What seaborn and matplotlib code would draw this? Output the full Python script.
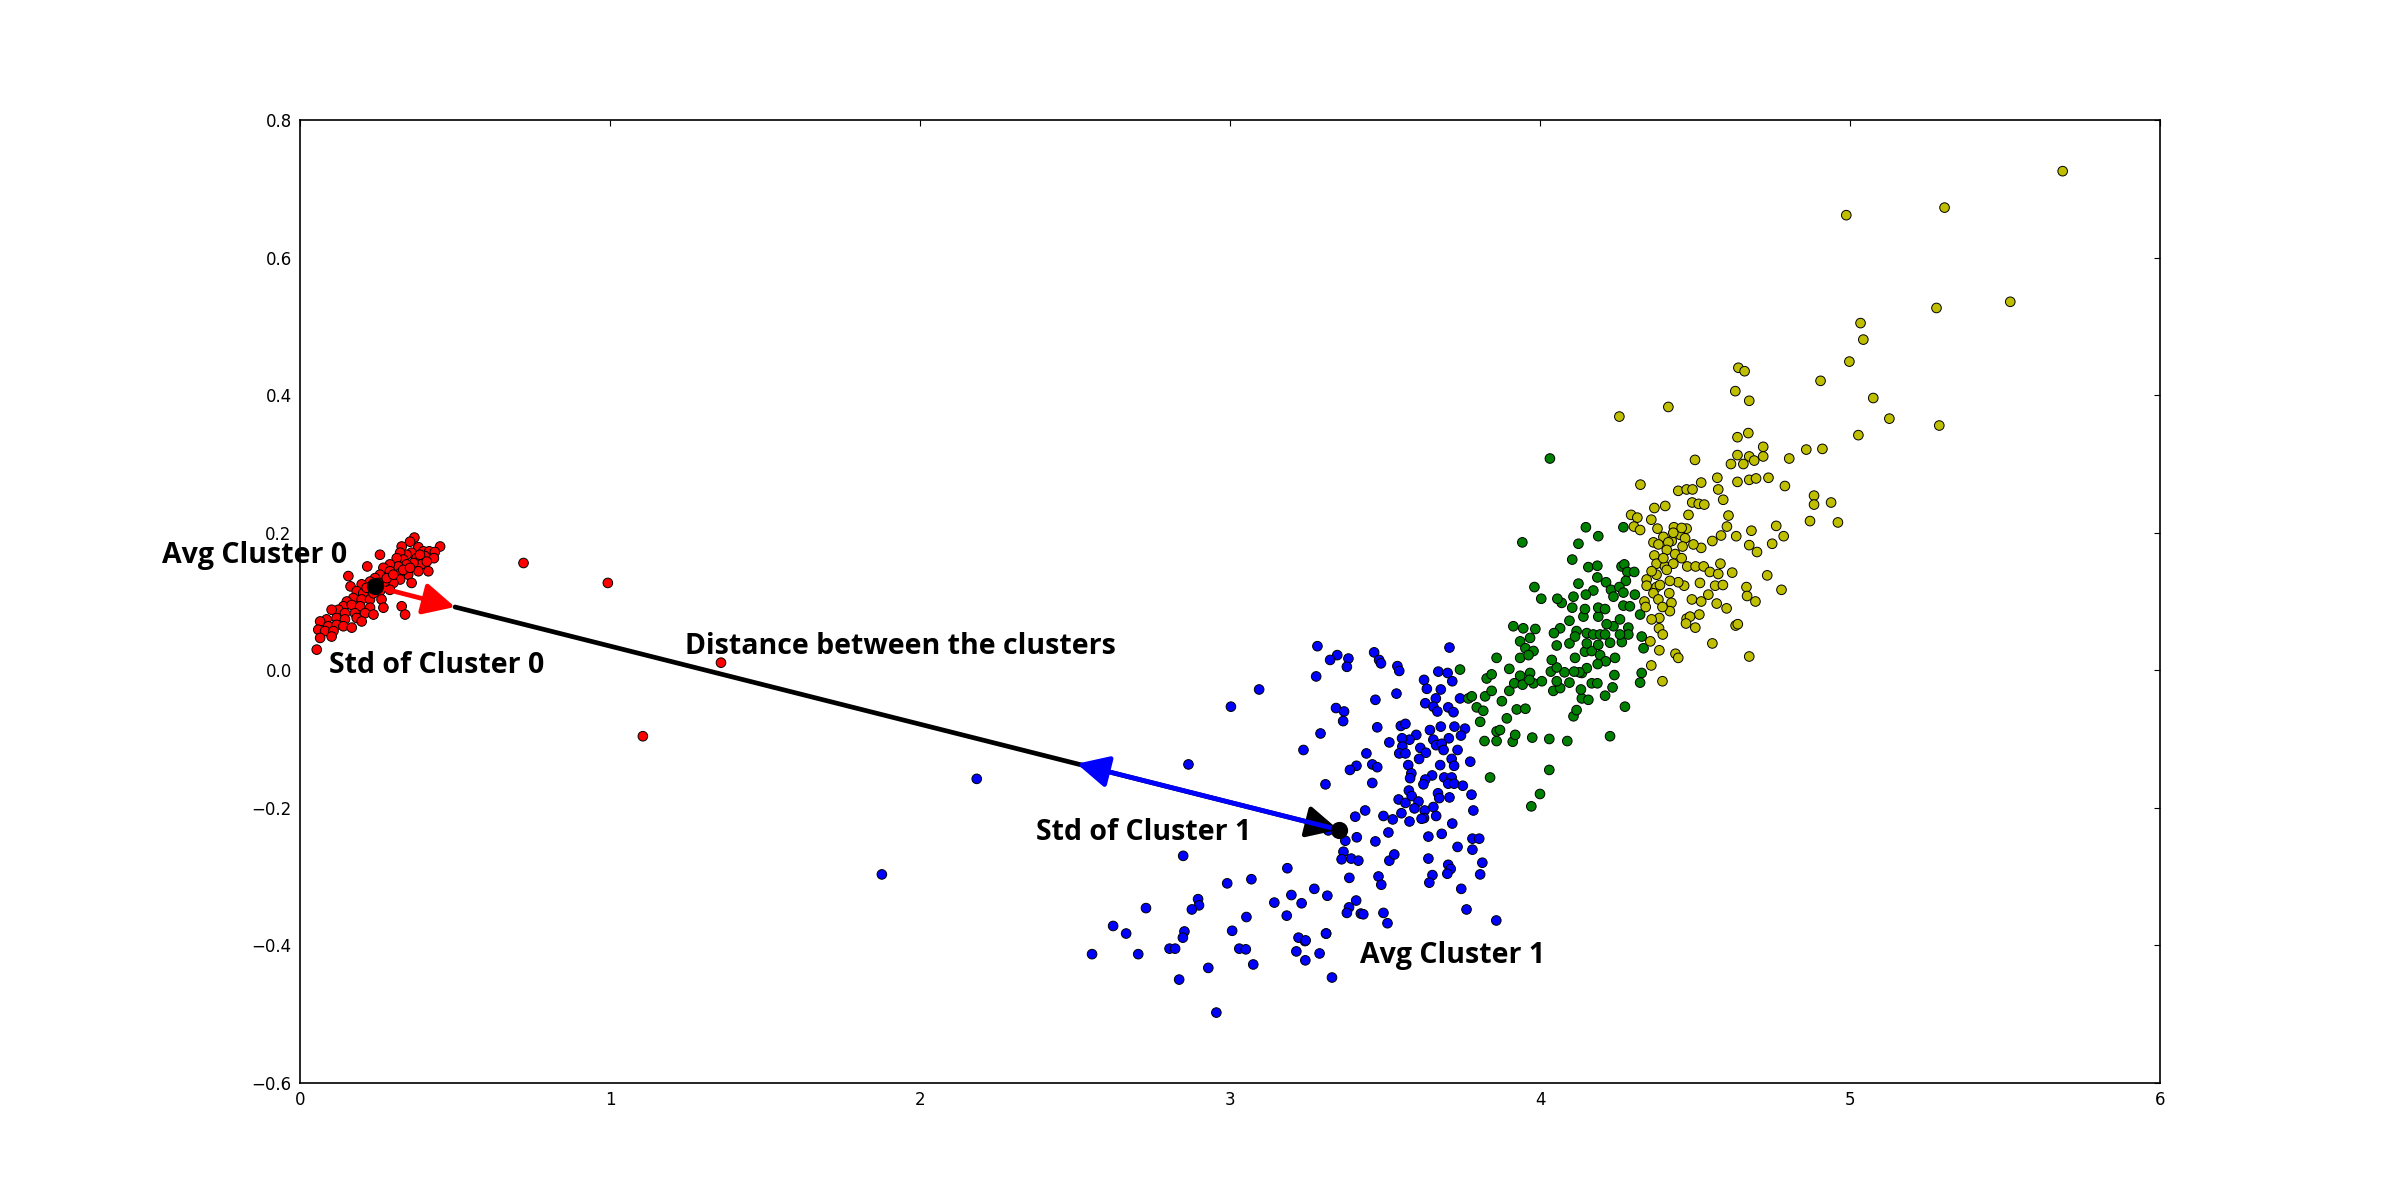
import numpy as np
import pandas as pd
import matplotlib
matplotlib.use("Agg")
import matplotlib.pyplot as plt
import seaborn as sns

# points, one list per cluster
red_pts = [
    (0.369, 0.193), (0.355, 0.187), (0.328, 0.180), (0.452, 0.180), (0.382, 0.179), (0.398, 0.173),
    (0.360, 0.171), (0.344, 0.168), (0.323, 0.171), (0.417, 0.173), (0.435, 0.172), (0.403, 0.166),
    (0.376, 0.163), (0.333, 0.161), (0.312, 0.163), (0.432, 0.163), (0.258, 0.168), (0.392, 0.154),
    (0.366, 0.156), (0.344, 0.154), (0.317, 0.151), (0.290, 0.154), (0.269, 0.149), (0.217, 0.151),
    (0.414, 0.144), (0.382, 0.144), (0.349, 0.139), (0.323, 0.141), (0.290, 0.144), (0.258, 0.139),
    (0.242, 0.134), (0.156, 0.137), (0.360, 0.127), (0.323, 0.132), (0.301, 0.127), (0.274, 0.129),
    (0.253, 0.127), (0.226, 0.129), (0.199, 0.125), (0.163, 0.122), (0.183, 0.115), (0.204, 0.112),
    (0.258, 0.115), (0.290, 0.117), (0.172, 0.105), (0.199, 0.103), (0.226, 0.103), (0.263, 0.103),
    (0.151, 0.100), (0.140, 0.093), (0.167, 0.095), (0.194, 0.093), (0.226, 0.091), (0.269, 0.091),
    (0.328, 0.093), (0.124, 0.088), (0.102, 0.088), (0.145, 0.083), (0.177, 0.083), (0.210, 0.083),
    (0.237, 0.081), (0.339, 0.081), (0.118, 0.076), (0.086, 0.074), (0.065, 0.071), (0.145, 0.074),
    (0.183, 0.076), (0.091, 0.064), (0.118, 0.066), (0.059, 0.059), (0.081, 0.057), (0.108, 0.057),
    (0.140, 0.064), (0.167, 0.062), (0.199, 0.071), (0.102, 0.049), (0.065, 0.047), (0.054, 0.030),
    (0.215, 0.120), (0.237, 0.112), (0.280, 0.134), (0.301, 0.139), (0.333, 0.146), (0.355, 0.149),
    (0.387, 0.168), (0.409, 0.158),
    (0.721, 0.156), (0.993, 0.127), (1.358, 0.011), (1.106, -0.096),
]

blue_pts = [
    (3.282, 0.035), (3.346, 0.022), (3.323, 0.015), (3.382, 0.017), (3.377, 0.005), (3.465, 0.026),
    (3.481, 0.015), (3.487, 0.010), (3.540, 0.006), (3.546, -0.001), (3.278, -0.009), (3.672, -0.002),
    (3.702, -0.004), (3.708, 0.033), (3.717, -0.016), (3.626, -0.014), (3.635, -0.027), (3.680, -0.028),
    (3.537, -0.034), (3.469, -0.043), (3.742, -0.041), (3.664, -0.041), (3.630, -0.048), (3.656, -0.053),
    (3.669, -0.060), (3.704, -0.054), (3.721, -0.061), (3.342, -0.055), (3.368, -0.060), (3.365, -0.074),
    (3.475, -0.083), (3.551, -0.081), (3.566, -0.078), (3.601, -0.094), (3.579, -0.101), (3.555, -0.099),
    (3.645, -0.087), (3.680, -0.082), (3.724, -0.082), (3.758, -0.085), (3.745, -0.095), (3.656, -0.101),
    (3.706, -0.099), (3.665, -0.109), (3.683, -0.107), (3.689, -0.116), (3.734, -0.116), (3.614, -0.113),
    (3.632, -0.120), (3.610, -0.129), (3.514, -0.105), (3.556, -0.111), (3.546, -0.121), (3.566, -0.121),
    (3.292, -0.092), (3.237, -0.116), (3.440, -0.121), (3.408, -0.139), (3.387, -0.145), (3.459, -0.137),
    (3.475, -0.141), (3.459, -0.164), (3.308, -0.166), (3.575, -0.138), (3.585, -0.150), (3.581, -0.157),
    (3.678, -0.138), (3.715, -0.129), (3.723, -0.139), (3.775, -0.133), (3.652, -0.153), (3.630, -0.159),
    (3.624, -0.166), (3.691, -0.156), (3.715, -0.156), (3.704, -0.165), (3.723, -0.165), (3.751, -0.168),
    (3.577, -0.175), (3.544, -0.188), (3.566, -0.193), (3.586, -0.183), (3.608, -0.191), (3.595, -0.201),
    (3.671, -0.179), (3.675, -0.186), (3.708, -0.185), (3.779, -0.181), (3.656, -0.199), (3.628, -0.204),
    (3.626, -0.215), (3.665, -0.212), (3.785, -0.204), (3.404, -0.213), (3.436, -0.204), (3.495, -0.212),
    (3.525, -0.217), (3.553, -0.208), (3.579, -0.220), (3.618, -0.216), (3.717, -0.223), (3.372, -0.248),
    (3.409, -0.243), (3.469, -0.249), (3.511, -0.236), (3.640, -0.242), (3.683, -0.238), (3.782, -0.245),
    (3.804, -0.245), (3.734, -0.257), (3.782, -0.261), (3.366, -0.264), (3.360, -0.275), (3.391, -0.274),
    (3.414, -0.277), (3.514, -0.277), (3.530, -0.268), (3.640, -0.274), (3.704, -0.283), (3.712, -0.289),
    (3.701, -0.296), (3.653, -0.298), (3.643, -0.309), (3.814, -0.280), (3.807, -0.297), (3.385, -0.302),
    (3.479, -0.300), (3.488, -0.312), (3.746, -0.318), (3.272, -0.318), (3.314, -0.328), (3.231, -0.339),
    (3.407, -0.335), (3.384, -0.345), (3.377, -0.353), (3.422, -0.354), (3.430, -0.355), (3.495, -0.353),
    (3.508, -0.368), (3.763, -0.348), (3.859, -0.364), (3.310, -0.383), (3.242, -0.394), (3.317, -0.233),
    (3.094, -0.028), (3.003, -0.053), (2.866, -0.137),
    (2.849, -0.270), (3.185, -0.288), (2.991, -0.310), (3.069, -0.304), (2.729, -0.346), (2.897, -0.333),
    (2.900, -0.342), (2.877, -0.348), (3.053, -0.359), (3.143, -0.338), (3.198, -0.327), (3.183, -0.357),
    (2.623, -0.372), (2.665, -0.383), (2.555, -0.413), (2.704, -0.413), (2.853, -0.380), (2.848, -0.389),
    (2.805, -0.405), (2.823, -0.405), (3.007, -0.379), (3.030, -0.405), (3.051, -0.406), (3.075, -0.428),
    (2.930, -0.433), (2.836, -0.450), (2.956, -0.498), (3.221, -0.389), (3.244, -0.393), (3.214, -0.409),
    (3.243, -0.422), (3.289, -0.412), (3.310, -0.383), (3.329, -0.447),
    (2.183, -0.158), (1.877, -0.297),
]

green_pts = [
    (3.742, 0.001), (3.769, -0.041), (3.780, -0.038), (3.796, -0.054), (3.817, -0.059), (3.823, -0.038),
    (3.844, -0.030), (3.828, -0.012), (3.844, -0.006), (3.807, -0.075), (3.821, -0.103), (3.860, -0.103),
    (3.860, -0.089), (3.871, -0.087), (3.877, -0.045), (3.893, -0.070), (3.901, -0.030), (3.901, 0.002),
    (3.912, -0.104), (3.920, -0.094), (3.925, -0.057), (3.953, -0.056), (3.917, -0.019), (3.936, -0.008),
    (3.944, -0.021), (3.968, -0.004), (3.979, -0.019), (4.006, -0.016), (3.966, -0.014), (3.914, 0.064),
    (3.946, 0.061), (3.985, 0.060), (3.936, 0.042), (3.968, 0.047), (3.953, 0.032), (3.979, 0.028),
    (3.936, 0.018), (3.963, 0.022), (3.860, 0.018), (3.839, -0.156), (3.975, -0.098), (4.030, -0.100),
    (4.088, -0.103), (4.030, -0.145), (4.000, -0.180), (3.972, -0.198), (4.226, -0.096), (4.274, -0.053),
    (4.108, -0.067), (4.118, -0.058), (4.135, -0.041), (4.156, -0.043), (4.132, -0.028), (4.043, -0.030),
    (4.065, -0.026), (4.054, -0.016), (4.095, -0.018), (4.135, -0.004), (4.167, -0.019), (4.185, -0.019),
    (4.234, -0.025), (4.210, -0.037), (4.240, -0.007), (4.151, 0.003), (4.127, -0.003), (4.110, -0.002),
    (4.079, -0.003), (4.035, -0.002), (4.054, 0.004), (4.038, 0.015), (4.054, 0.036), (4.095, 0.039),
    (4.113, 0.018), (4.145, 0.027), (4.167, 0.028), (4.194, 0.022), (4.212, 0.013), (4.242, 0.018),
    (4.186, 0.009), (4.065, 0.061), (4.095, 0.072), (4.118, 0.057), (4.151, 0.054), (4.172, 0.052),
    (4.194, 0.052), (4.210, 0.052), (4.237, 0.064), (4.258, 0.074), (4.285, 0.062), (4.285, 0.052),
    (4.264, 0.041), (4.226, 0.040), (4.151, 0.039), (4.188, 0.037), (4.113, 0.049), (4.045, 0.054),
    (4.140, 0.078), (4.188, 0.078), (4.215, 0.067), (4.258, 0.052), (4.323, 0.081), (4.328, 0.049),
    (4.334, 0.032), (4.328, -0.004), (4.323, -0.018), (4.104, 0.091), (4.145, 0.089), (4.188, 0.091),
    (4.210, 0.089), (4.269, 0.094), (4.290, 0.093), (4.070, 0.098),
    (4.032, 0.308), (3.943, 0.186), (4.148, 0.208), (4.269, 0.208), (4.188, 0.195), (4.124, 0.184),
    (4.104, 0.161), (4.156, 0.150), (4.185, 0.152), (4.263, 0.151), (4.272, 0.154), (4.282, 0.143),
    (4.304, 0.143), (4.277, 0.130), (4.185, 0.135), (4.124, 0.126), (4.213, 0.128), (4.229, 0.117),
    (4.256, 0.121), (4.269, 0.113), (4.306, 0.110), (4.237, 0.107), (4.172, 0.116), (4.148, 0.110),
    (4.108, 0.107), (3.982, 0.121), (4.004, 0.104), (4.056, 0.104),
]

yellow_pts = [
    (4.630, 0.406), (4.675, 0.392), (4.414, 0.383), (4.256, 0.369), (5.075, 0.396), (5.127, 0.366),
    (5.288, 0.356), (5.027, 0.342), (4.637, 0.339), (4.672, 0.345), (4.720, 0.325), (4.859, 0.321),
    (4.911, 0.322), (4.804, 0.308), (4.500, 0.306), (4.637, 0.313), (4.675, 0.311), (4.720, 0.311),
    (4.616, 0.300), (4.656, 0.300), (4.691, 0.305), (4.572, 0.280), (4.637, 0.274), (4.675, 0.277),
    (4.697, 0.279), (4.737, 0.280), (4.790, 0.268), (4.324, 0.270), (4.520, 0.273), (4.446, 0.261),
    (4.473, 0.263), (4.492, 0.263), (4.575, 0.263), (4.591, 0.248), (4.884, 0.254), (4.884, 0.241),
    (4.939, 0.244), (4.871, 0.217), (4.961, 0.215), (4.491, 0.244), (4.512, 0.242), (4.530, 0.241),
    (4.369, 0.236), (4.404, 0.239), (4.294, 0.226), (4.314, 0.222), (4.359, 0.219), (4.479, 0.226),
    (4.608, 0.225), (4.603, 0.209), (4.303, 0.209), (4.323, 0.204), (4.379, 0.206), (4.432, 0.208),
    (4.473, 0.206), (4.452, 0.197), (4.468, 0.192), (4.398, 0.194), (4.425, 0.188), (4.762, 0.210),
    (4.682, 0.203), (4.633, 0.195), (4.584, 0.196), (4.556, 0.188), (4.786, 0.195), (4.749, 0.184),
    (4.675, 0.182), (4.700, 0.172), (4.520, 0.178), (4.495, 0.183), (4.366, 0.186), (4.382, 0.183),
    (4.414, 0.186), (4.460, 0.180), (4.369, 0.167), (4.409, 0.175), (4.436, 0.169), (4.457, 0.163),
    (4.376, 0.155), (4.403, 0.151), (4.430, 0.155), (4.475, 0.151), (4.502, 0.151), (4.528, 0.151),
    (4.548, 0.143), (4.575, 0.140), (4.620, 0.142), (4.582, 0.155), (4.733, 0.138), (4.779, 0.117),
    (4.666, 0.121), (4.668, 0.108), (4.695, 0.100), (4.516, 0.127), (4.565, 0.123), (4.590, 0.124),
    (4.465, 0.123), (4.446, 0.128), (4.419, 0.130), (4.344, 0.132), (4.376, 0.139), (4.360, 0.144),
    (4.344, 0.123), (4.376, 0.121), (4.417, 0.112), (4.387, 0.124), (4.366, 0.112), (4.382, 0.103),
    (4.424, 0.098), (4.337, 0.100), (4.341, 0.092), (4.419, 0.086), (4.395, 0.092), (4.490, 0.103),
    (4.520, 0.100), (4.543, 0.110), (4.570, 0.097), (4.602, 0.090), (4.514, 0.081), (4.473, 0.075),
    (4.484, 0.078), (4.501, 0.062), (4.471, 0.068), (4.385, 0.076), (4.360, 0.074), (4.384, 0.061),
    (4.396, 0.052), (4.356, 0.042), (4.385, 0.029), (4.437, 0.024), (4.446, 0.018), (4.359, 0.007),
    (4.395, -0.016), (4.556, 0.039), (4.631, 0.065), (4.638, 0.067), (4.675, 0.020), (4.409, 0.146),
    (4.398, 0.163), (4.430, 0.200), (4.457, 0.207),
    (5.686, 0.726), (5.305, 0.673), (4.988, 0.662), (5.279, 0.527), (5.517, 0.536), (5.034, 0.505),
    (5.043, 0.481), (4.998, 0.449), (4.905, 0.421), (4.640, 0.440), (4.660, 0.435),
]

cluster_colors = {"0": "#ff0000", "1": "#0000ff", "2": "#008000", "3": "#bfbf00"}

# cluster centres and the arrow ends
centre_0 = (0.242, 0.122)
centre_1 = (3.350, -0.232)
std0_tip = (0.500, 0.092)
std1_tip = (2.506, -0.136)

frames = []
for name, pts in [("0", red_pts), ("1", blue_pts), ("2", green_pts), ("3", yellow_pts)]:
    arr = np.array(pts)
    frames.append(pd.DataFrame({"x": arr[:, 0], "y": arr[:, 1], "cluster": name}))
df = pd.concat(frames, ignore_index=True)

sns.set_style("white")
plt.rcParams["font.family"] = ["DejaVu Sans"]
plt.rcParams.update({
    "xtick.direction": "in", "ytick.direction": "in",
    "xtick.top": True, "ytick.right": True,
    "xtick.major.size": 4, "ytick.major.size": 4,
    "xtick.labelsize": 12, "ytick.labelsize": 12,
    "axes.edgecolor": "black", "axes.linewidth": 1.2,
    "text.color": "black",
})

fig = plt.figure(figsize=(24, 12.03), dpi=100)
ax = fig.add_axes([0.125, 0.1, 0.775, 0.8])

sns.scatterplot(data=df, x="x", y="y", hue="cluster", palette=cluster_colors,
                s=48, edgecolor="black", linewidth=0.7, legend=False, ax=ax, zorder=2)

arrow_kw = dict(arrowstyle="-|>", lw=3.4, mutation_scale=48, shrinkA=0, shrinkB=0)
ax.annotate("", xy=centre_1, xytext=std0_tip,
            arrowprops=dict(color="black", **arrow_kw), zorder=3)
ax.annotate("", xy=std0_tip, xytext=centre_0,
            arrowprops=dict(color="#ff0000", **arrow_kw), zorder=4)
ax.annotate("", xy=std1_tip, xytext=centre_1,
            arrowprops=dict(color="#0000ff", **arrow_kw), zorder=4)
ax.scatter([centre_0[0], centre_1[0]], [centre_0[1], centre_1[1]], s=130, color="black", zorder=5)

txt = dict(fontfamily="Open Sans", fontweight="bold", fontsize=20.5, color="black",
           ha="left", va="baseline", zorder=6)
ax.text(-0.446, 0.156, "Avg Cluster 0", **txt)
ax.text(0.094, -0.004, "Std of Cluster 0", **txt)
ax.text(1.243, 0.023, "Distance between the clusters", **txt)
ax.text(2.373, -0.247, "Std of Cluster 1", **txt)
ax.text(3.419, -0.426, "Avg Cluster 1", **txt)

ax.set_xlim(0, 6)
ax.set_ylim(-0.6, 0.8)
ax.set_xticks(np.arange(0, 7, 1))
ax.set_yticks(np.arange(-0.6, 0.81, 0.2))
ax.set_xlabel("")
ax.set_ylabel("")
ax.tick_params(pad=6, colors="black")

fig.savefig("out.png", dpi=100, facecolor="white")
